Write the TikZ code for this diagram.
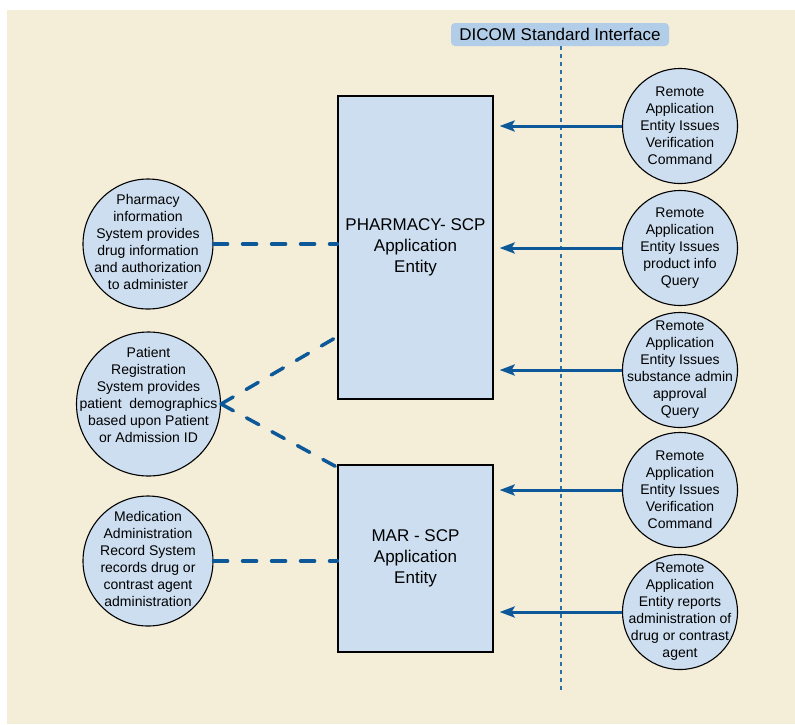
\documentclass[tikz,border=0pt]{standalone}
\usepackage{fontspec}
\setmainfont{Liberation Sans}
\usetikzlibrary{arrows.meta}

\definecolor{paper}{RGB}{244,237,216}
\definecolor{shape}{RGB}{205,222,240}
\definecolor{tag}{RGB}{178,205,232}
\definecolor{link}{RGB}{12,88,152}
\definecolor{dots}{RGB}{44,112,162}

\tikzset{
    entity/.style={rectangle, draw=black, fill=shape, line width=1.3pt, align=center,
        font=\fontsize{17}{21}\selectfont},
    disc/.style={circle, draw=black, fill=shape, line width=1.1pt, inner sep=0pt},
    lab/.style={align=center, inner sep=0pt, font=\fontsize{14}{17}\selectfont},
    remote/.style={disc, minimum size=115pt, label={[lab]center:#1}},
    arrow/.style={draw=link, line width=3pt, -{Stealth[length=15pt,width=11pt,inset=3pt]}, shorten >=6pt},
    dashline/.style={draw=link, line width=3.5pt, line cap=round, dash pattern=on 14pt off 15pt}
}

\begin{document}
\begin{tikzpicture}[x=1pt,y=-1pt]
            \useasboundingbox (0,0) rectangle (795,724);
            \fill[paper] (7,10) rectangle (795,724);

            \begin{scope}
                \node[entity, minimum width=155pt, minimum height=303pt] (1) at (415.5,247.5) {PHARMACY- SCP\\Application\\Entity};
                \node[entity, minimum width=155pt, minimum height=187pt] (2) at (415.5,558.5) {MAR - SCP\\Application\\Entity};

                \node[disc, minimum size=130pt, label={[lab, yshift=2pt]center:{Pharmacy\\information\\System provides\\drug information\\and authorization\\to administer}}] (3) at (148,244) {};
                \node[disc, minimum size=144pt, label={[lab, yshift=9pt]center:{Patient\\Registration\\System provides\\patient\ \ demographics\\based upon Patient\\or Admission ID}}] (4) at (148.5,404) {};
                \node[disc, minimum size=130pt, label={[lab, yshift=2pt]center:{Medication\\Administration\\Record System\\records drug or\\contrast agent\\administration}}] (5) at (148,561) {};

                \node[remote={Remote\\Application\\Entity Issues\\Verification\\Command}] (6) at (680,126) {};
                \node[remote={Remote\\Application\\Entity Issues\\product info\\Query}] (7) at (680,248) {};
                \node[remote={Remote\\Application\\Entity Issues\\substance admin\\approval\\Query}] (8) at (680,370) {};
                \node[remote={Remote\\Application\\Entity Issues\\Verification\\Command}] (9) at (680,490) {};
                \node[remote={Remote\\Application\\Entity reports\\administration of\\drug or contrast\\agent}] (10) at (680,612) {};

                \node[fill=tag, rounded corners=4pt, minimum width=218pt, minimum height=23pt, inner sep=0pt,
                      font=\fontsize{17}{20}\selectfont] (11) at (560,34.5) {DICOM Standard Interface};
                \coordinate (12) at (561,693);
            \end{scope}

            \begin{scope}
                \path [draw=dots, line width=1.8pt, dash pattern=on 4pt off 4pt] ([xshift=1pt]11.south) -- (12);

                \path (6.west) edge [arrow] (6.west -| 1.east);
                \path (7.west) edge [arrow] (7.west -| 1.east);
                \path (8.west) edge [arrow] (8.west -| 1.east);
                \path (9.west) edge [arrow] (9.west -| 2.east);
                \path (10.west) edge [arrow] (10.west -| 2.east);

                \path (3.east) edge [dashline] (3.east -| 1.west);
                \path (4.east) edge [dashline] ([yshift=63pt]1.south west);
                \path (4.east) edge [dashline] ([yshift=-3pt]2.north west);
                \path (5.east) edge [dashline] (5.east -| 2.west);
            \end{scope}
        \end{tikzpicture}
\end{document}
